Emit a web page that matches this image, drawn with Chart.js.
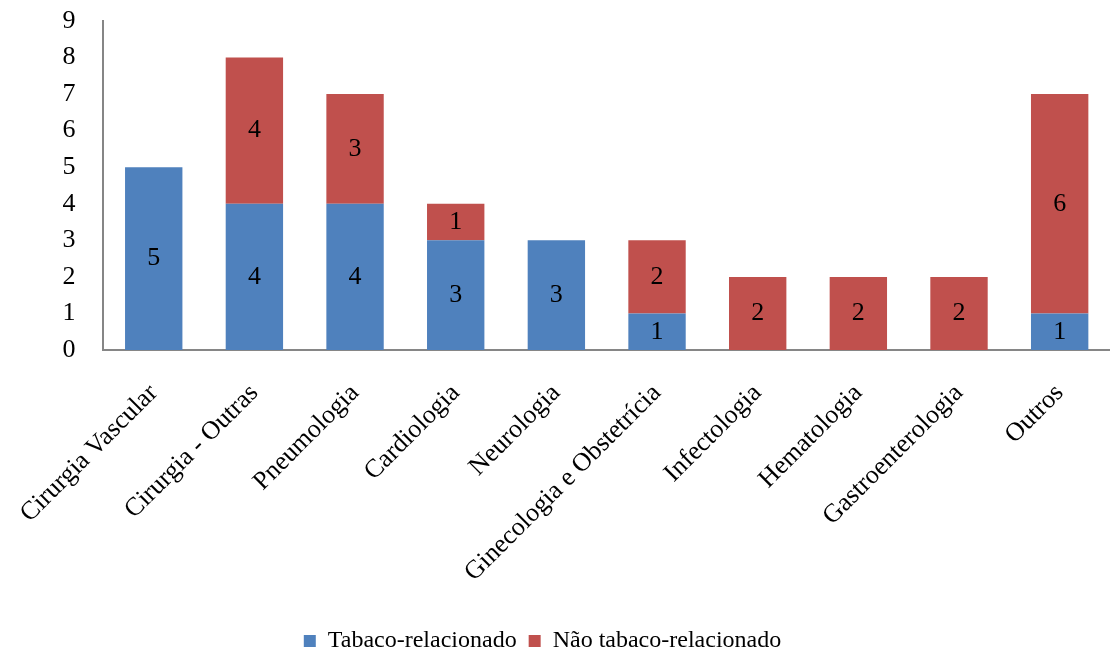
<!DOCTYPE html>
<html lang="pt">
<head>
    <meta charset="UTF-8">
    <title>Especialidades</title>
    <script src="https://cdn.jsdelivr.net/npm/chart.js"></script>
    <style>
        html, body { margin: 0; padding: 0; background: #fff; }
        #wrap { width: 1110px; height: 654px; }
    </style>
</head>
<body>
<div id="wrap"><canvas id="myChart"></canvas></div>

<script>
    const categories = ['Cirurgia Vascular', 'Cirurgia - Outras', 'Pneumologia', 'Cardiologia', 'Neurologia',
        'Ginecologia e Obstetrícia', 'Infectologia', 'Hematologia', 'Gastroenterologia', 'Outros'];
    const tabaco = [5, 4, 4, 3, 3, 1, 0, 0, 0, 1];
    const naoTabaco = [0, 4, 3, 1, 0, 2, 2, 2, 2, 6];

    // writes the value in the middle of each segment, skips zeros
    const barLabels = {
        id: 'barLabels',
        afterDatasetsDraw(chart) {
            const ctx = chart.ctx;
            ctx.save();
            ctx.font = '26px "Liberation Serif", "Times New Roman", serif';
            ctx.fillStyle = '#000';
            ctx.textAlign = 'center';
            ctx.textBaseline = 'middle';
            chart.data.datasets.forEach((ds, i) => {
                chart.getDatasetMeta(i).data.forEach((bar, j) => {
                    const v = ds.data[j];
                    if (!v) return;
                    ctx.fillText(v, bar.x, (bar.y + bar.base) / 2);
                });
            });
            ctx.restore();
        }
    };

    // legend sits lower and a bit more to the left in the original
    const legendNudge = {
        id: 'legendNudge',
        afterLayout(chart) {
            const l = chart.legend;
            l.top += 9;
            l.bottom += 9;
            l.left -= 41;
            l.right -= 41;
        }
    };

    Chart.defaults.font.family = '"Liberation Serif", "Times New Roman", serif';
    Chart.defaults.font.size = 26;
    Chart.defaults.color = '#000';

    new Chart(document.getElementById('myChart'), {
        type: 'bar',
        data: {
            labels: categories,
            datasets: [{
                label: 'Tabaco-relacionado',
                data: tabaco,
                backgroundColor: '#4F81BD'
            }, {
                label: 'Não tabaco-relacionado',
                data: naoTabaco,
                backgroundColor: '#C0504D'
            }]
        },
        options: {
            responsive: true,
            maintainAspectRatio: false,
            animation: false,
            barPercentage: 0.57,
            categoryPercentage: 1,
            layout: { autoPadding: false, padding: { top: 21, right: 0, left: 57, bottom: 0 } },
            plugins: {
                legend: {
                    position: 'bottom',
                    labels: { boxWidth: 12, boxHeight: 12, padding: 12, font: { size: 24 } }
                },
                tooltip: { enabled: false }
            },
            scales: {
                x: {
                    stacked: true,
                    grid: { display: false },
                    border: { display: true, color: '#868686', width: 2 },
                    ticks: { minRotation: 45, maxRotation: 45, padding: 20, autoSkip: false },
                    afterFit: s => { s.height = 258; }
                },
                y: {
                    stacked: true,
                    min: 0,
                    max: 9,
                    grid: { display: false },
                    border: { display: true, color: '#868686', width: 2 },
                    ticks: { stepSize: 1, padding: 0, crossAlign: 'far', autoSkip: false },
                    afterFit: s => { s.width = 41; }
                }
            }
        },
        plugins: [barLabels, legendNudge]
    });
</script>
</body>
</html>
